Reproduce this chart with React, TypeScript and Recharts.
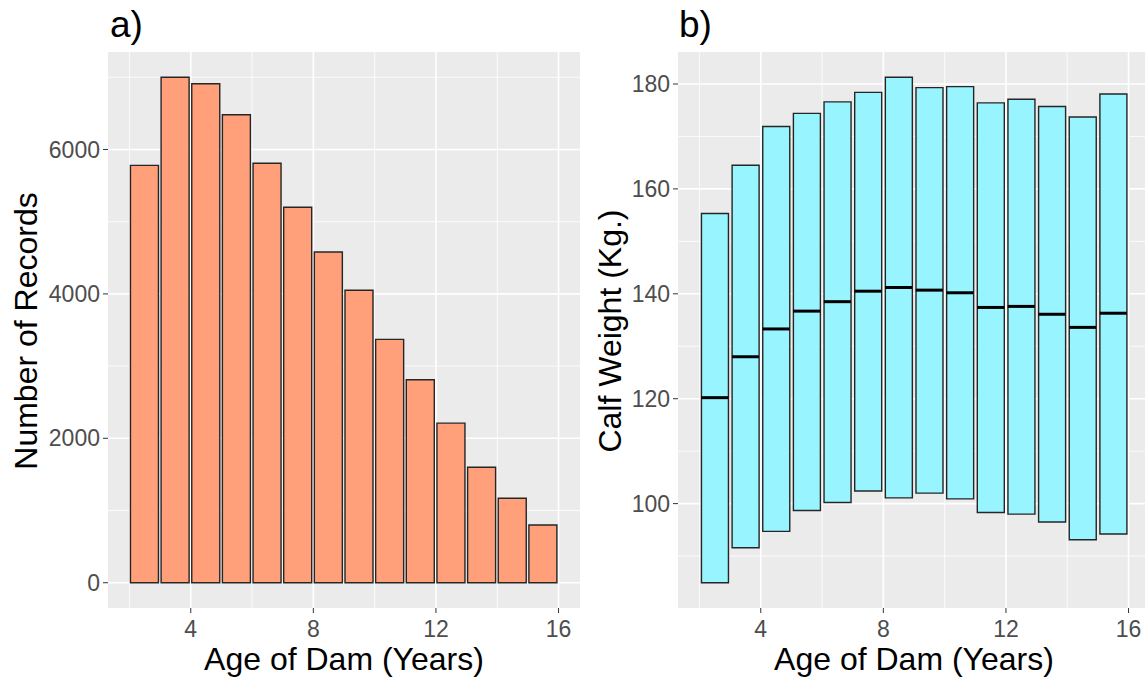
import {
  ComposedChart,
  Bar,
  Scatter,
  XAxis,
  YAxis,
  CartesianGrid,
} from 'recharts';

const FONT = '"Liberation Sans", Arial, sans-serif';

// age bins (left edge of each 1-year bin)
const ageBins = [2, 3, 4, 5, 6, 7, 8, 9, 10, 11, 12, 13, 14, 15];
const recordCounts = [5780, 7000, 6910, 6480, 5810, 5200, 4580, 4050, 3370, 2810, 2210, 1600, 1170, 800];

const weightLow = [84.9, 91.6, 94.7, 98.7, 100.2, 102.4, 101.1, 102.0, 100.9, 98.3, 98.0, 96.5, 93.1, 94.2];
const weightHigh = [155.3, 164.5, 171.9, 174.4, 176.6, 178.4, 181.3, 179.3, 179.5, 176.4, 177.1, 175.7, 173.7, 178.1];
const weightMedian = [120.2, 128.0, 133.3, 136.7, 138.5, 140.5, 141.2, 140.7, 140.2, 137.4, 137.6, 136.1, 133.6, 136.3];

const xTicks = [4, 8, 12, 16];
const xMinor = [2, 6, 10, 14];
const countTicks = [0, 2000, 4000, 6000];
const countMinor = [1000, 3000, 5000, 7000];
const weightTicks = [100, 120, 140, 160, 180];
const weightMinor = [90, 110, 130, 150, 170];

const countData = ageBins.map((a, i) => ({ x: a + 0.5, count: recordCounts[i] }));
const weightData = ageBins.map((a, i) => ({
  x: a + 0.5,
  range: [weightLow[i], weightHigh[i]],
  median: weightMedian[i],
}));

const PANEL = '#EBEBEB';
const TICK = { fontSize: 23, fill: '#4D4D4D', fontFamily: FONT };
const TICK_LINE = { stroke: '#333333', strokeWidth: 1 };
const X_DOMAIN: [number, number] = [1.3, 16.7];

const MedianLine = (props: any) => {
  const { cx, cy } = props;
  if (cx == null || cy == null) return null;
  return <line x1={cx - 13.5} x2={cx + 13.5} y1={cy} y2={cy} stroke="#000" strokeWidth={3} />;
};

function Grids({ xMinorVals, yMinorVals, xMajorVals, yMajorVals }: any) {
  return (
    <>
      <CartesianGrid
        fill={PANEL}
        stroke="#FFFFFF"
        strokeWidth={0.8}
        horizontalValues={yMinorVals}
        verticalValues={xMinorVals}
      />
      <CartesianGrid
        fill="none"
        stroke="#FFFFFF"
        strokeWidth={1.6}
        horizontalValues={yMajorVals}
        verticalValues={xMajorVals}
      />
    </>
  );
}

export default function App() {
  return (
    <div
      style={{
        position: 'absolute',
        left: 0,
        top: 0,
        width: 1145,
        height: 678,
        overflow: 'hidden',
        background: '#fff',
        fontFamily: FONT,
      }}
    >
      <div style={{ position: 'absolute', left: 0, top: 0 }}>
        <ComposedChart width={580} height={678} data={countData} margin={{ top: 52, right: 0, bottom: 0, left: 0 }}>
          {Grids({ xMinorVals: xMinor, yMinorVals: countMinor, xMajorVals: xTicks, yMajorVals: countTicks })}
          <XAxis
            dataKey="x"
            type="number"
            domain={X_DOMAIN}
            allowDataOverflow
            ticks={xTicks}
            height={70}
            tick={TICK}
            tickLine={TICK_LINE}
            tickSize={5}
            tickMargin={8}
            axisLine={false}
          />
          <YAxis
            type="number"
            domain={[-350, 7350]}
            allowDataOverflow
            ticks={countTicks}
            width={108}
            tick={TICK}
            tickLine={TICK_LINE}
            tickSize={5}
            tickMargin={3}
            axisLine={false}
          />
          <Bar
            dataKey="count"
            fill="#FFA07A"
            stroke="#262626"
            strokeWidth={1.4}
            barSize={28}
            isAnimationActive={false}
          />
        </ComposedChart>
      </div>

      <div style={{ position: 'absolute', left: 580, top: 0, width: 565, height: 678, overflow: 'hidden' }}>
        <ComposedChart width={570} height={678} data={weightData} margin={{ top: 52, right: 0, bottom: 0, left: 0 }}>
          {Grids({ xMinorVals: xMinor, yMinorVals: weightMinor, xMajorVals: xTicks, yMajorVals: weightTicks })}
          <XAxis
            dataKey="x"
            type="number"
            domain={X_DOMAIN}
            allowDataOverflow
            ticks={xTicks}
            height={70}
            tick={TICK}
            tickLine={TICK_LINE}
            tickSize={5}
            tickMargin={8}
            axisLine={false}
          />
          <YAxis
            type="number"
            domain={[80.1, 186.1]}
            allowDataOverflow
            ticks={weightTicks}
            width={98}
            tick={TICK}
            tickLine={TICK_LINE}
            tickSize={5}
            tickMargin={3}
            axisLine={false}
          />
          <Bar
            dataKey="range"
            fill="#98F5FF"
            stroke="#262626"
            strokeWidth={1.4}
            barSize={27}
            isAnimationActive={false}
          />
          <Scatter dataKey="median" shape={MedianLine} isAnimationActive={false} />
        </ComposedChart>
      </div>

      <svg
        width={1145}
        height={678}
        style={{ position: 'absolute', left: 0, top: 0, pointerEvents: 'none' }}
        fontFamily={FONT}
      >
        <text x={110} y={37} fontSize={37} fill="#000">a)</text>
        <text x={679} y={37} fontSize={37} fill="#000">b)</text>
        <text x={37} y={331} fontSize={32} fill="#000" textAnchor="middle" transform="rotate(-90 37 331)">
          Number of Records
        </text>
        <text x={621} y={331} fontSize={32} fill="#000" textAnchor="middle" transform="rotate(-90 621 331)">
          Calf Weight (Kg.)
        </text>
        <text x={344} y={670} fontSize={32} fill="#000" textAnchor="middle">Age of Dam (Years)</text>
        <text x={914} y={670} fontSize={32} fill="#000" textAnchor="middle">Age of Dam (Years)</text>
      </svg>
    </div>
  );
}
